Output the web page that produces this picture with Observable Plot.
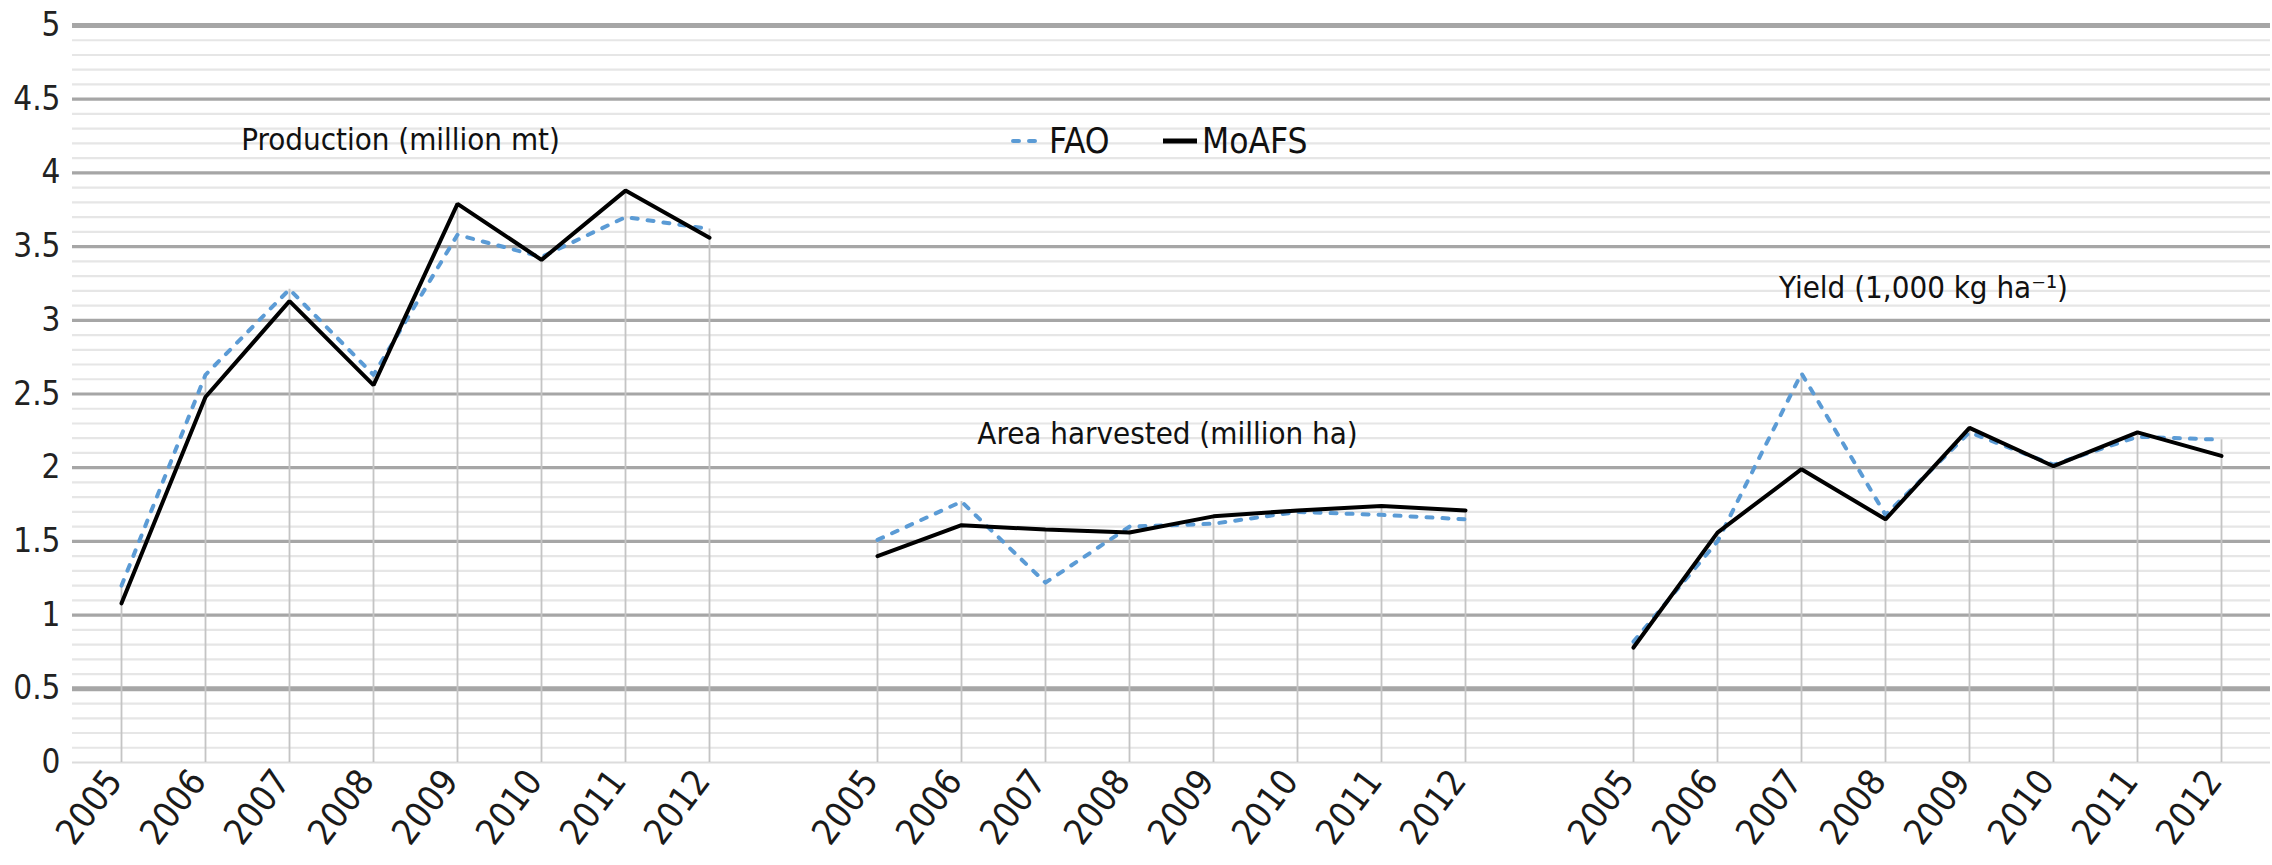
<!DOCTYPE html>
<html>
<head>
<meta charset="utf-8">
<script src="https://cdn.jsdelivr.net/npm/d3@7"></script>
<script src="https://cdn.jsdelivr.net/npm/@observablehq/plot@0.6"></script>
<style>
  html, body { margin: 0; padding: 0; background: #fff; }
  #wrap { position: relative; width: 2272px; height: 865px; }
  .lg { position: absolute; top: 118px; height: 46px; display: flex; align-items: center;
        font-family: "Liberation Sans Narrow", "Arial Narrow", "DejaVu Sans Condensed", sans-serif;
        font-size: 35px; color: #111; }
  .lg svg { margin-right: 5px; }
</style>
</head>
<body>
<div id="wrap"></div>
<script>
// ---- data ----
const years = [2005, 2006, 2007, 2008, 2009, 2010, 2011, 2012];
const groups = ["Production", "Area", "Yield"];
const groupPrefix = ["P", "A", "Y"];
const seriesNames = ["FAO", "MoAFS"];
const productionFAO   = [1.20, 2.63, 3.21, 2.63, 3.58, 3.43, 3.70, 3.62];
const productionMoAFS = [1.08, 2.48, 3.13, 2.56, 3.79, 3.41, 3.88, 3.56];
const areaFAO         = [1.51, 1.77, 1.22, 1.60, 1.62, 1.70, 1.68, 1.65];
const areaMoAFS       = [1.40, 1.61, 1.58, 1.56, 1.67, 1.71, 1.74, 1.71];
const yieldFAO        = [0.82, 1.50, 2.64, 1.68, 2.24, 2.02, 2.21, 2.19];
const yieldMoAFS      = [0.78, 1.56, 1.99, 1.65, 2.27, 2.01, 2.24, 2.08];
const groupLabels = ["Production (million mt)", "Area harvested (million ha)", "Yield (1,000 kg ha\u207B\u00B9)"];
const labelY = [4.22, 2.23, 3.22];
const yTicks = [0, 0.5, 1, 1.5, 2, 2.5, 3, 3.5, 4, 4.5, 5];
const yTickLabels = ["0", "0.5", "1", "1.5", "2", "2.5", "3", "3.5", "4", "4.5", "5"];

// ---- build table ----
const seriesData = {
  Production: {FAO: productionFAO, MoAFS: productionMoAFS},
  Area: {FAO: areaFAO, MoAFS: areaMoAFS},
  Yield: {FAO: yieldFAO, MoAFS: yieldMoAFS}
};
const domain = [];
const keyYear = new Map();
groups.forEach((g, gi) => {
  years.forEach(y => { const k = groupPrefix[gi] + y; domain.push(k); keyYear.set(k, String(y)); });
  if (gi < groups.length - 1) { const k = "gap" + gi; domain.push(k); keyYear.set(k, ""); }
});
const rows = [];
const drops = [];
groups.forEach((g, gi) => {
  years.forEach((y, i) => {
    const key = groupPrefix[gi] + y;
    let mx = 0;
    seriesNames.forEach(s => {
      const v = seriesData[g][s][i];
      rows.push({key, group: g, series: s, value: v});
      mx = Math.max(mx, v);
    });
    drops.push({key, value: mx});
  });
});
const minorTicks = d3.range(0, 50.5, 1).map(d => d / 10).filter(d => Math.abs(d * 2 - Math.round(d * 2)) > 1e-6);
const labels = groups.map((g, gi) => ({key: groupPrefix[gi] + 2008, y: labelY[gi], text: groupLabels[gi]}));

const FONT = '"Liberation Sans Narrow", "Arial Narrow", "DejaVu Sans Condensed", sans-serif';
const majorThick = new Set([0.5, 5]);

const chart = Plot.plot({
  width: 2272,
  height: 865,
  marginLeft: 72,
  marginRight: 2,
  marginTop: 25,
  marginBottom: 103,
  style: {fontFamily: FONT, fontSize: "31px", color: "#111", background: "#fff"},
  x: {type: "point", domain, padding: 0.5},
  y: {domain: [0, 5]},
  marks: [
    Plot.ruleY(minorTicks, {stroke: "#e6e6e6", strokeWidth: 2.2}),
    Plot.ruleY([0], {stroke: "#dcdcdc", strokeWidth: 2.2}),
    Plot.ruleY(yTicks.filter(d => d > 0), {stroke: "#a6a6a6", strokeWidth: d => majorThick.has(d) ? 5 : 3.2}),
    Plot.ruleX(drops, {x: "key", y1: 0, y2: "value", stroke: "#c4c4c4", strokeWidth: 1.8}),
    Plot.line(rows.filter(d => d.series === "FAO"), {
      x: "key", y: "value", z: "group", stroke: "#5b9bd5", strokeWidth: 4,
      strokeDasharray: "6,10", strokeLinecap: "round", strokeLinejoin: "round"
    }),
    Plot.line(rows.filter(d => d.series === "MoAFS"), {
      x: "key", y: "value", z: "group", stroke: "#000", strokeWidth: 4, strokeLinejoin: "miter"
    }),
    Plot.text(labels.slice(0, 1), {x: "key", y: "y", text: "text", dx: 27, fontSize: 31, fill: "#111"}),
    Plot.text(labels.slice(1), {x: "key", y: "y", text: "text", dx: 38, fontSize: 31, fill: "#111"}),
    Plot.axisY({
      ticks: yTicks, tickFormat: (d) => yTickLabels[yTicks.indexOf(d)],
      tickSize: 0, tickPadding: 12, fontSize: 33, fill: "#222"
    }),
    Plot.axisX({
      tickFormat: d => keyYear.get(d), tickSize: 0, tickPadding: 12, tickRotate: -53,
      fontSize: 36, fill: "#1a1a1a", label: null, dx: -7
    })
  ]
});
const wrap = document.getElementById("wrap");
wrap.appendChild(chart);

// legend overlay
function legendItem(left, name, color, dash) {
  const div = document.createElement("div");
  div.className = "lg";
  div.style.left = left + "px";
  div.innerHTML = `<svg width="34" height="10"><line x1="${dash ? 3 : 0}" y1="5" x2="${dash ? 31 : 34}" y2="5" stroke="${color}" stroke-width="${dash ? 4 : 5}" ${dash ? 'stroke-dasharray="6,10" stroke-linecap="round"' : ''}/></svg><span>${name}</span>`;
  wrap.appendChild(div);
}
legendItem(1010, seriesNames[0], "#5b9bd5", true);
legendItem(1163, seriesNames[1], "#000", false);
</script>
</body>
</html>
